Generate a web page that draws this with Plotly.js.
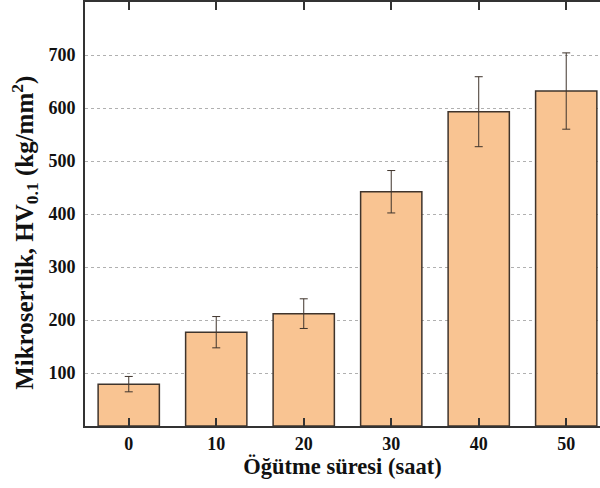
<!DOCTYPE html>
<html>
<head>
<meta charset="utf-8">
<script src="https://cdn.plot.ly/plotly-3.0.1.min.js"></script>
<style>html,body{margin:0;padding:0;background:#fff;overflow:hidden}</style>
</head>
<body>
<div id="chart" style="width:600px;height:488px"></div>
<script>
const categories = [0, 10, 20, 30, 40, 50];
const hardness = [79, 177, 212, 442, 593, 632];
const hardnessErr = [14.5, 29.5, 28, 40, 66, 72];
const yTicks = [100, 200, 300, 400, 500, 600, 700];

const FONT = 'Liberation Serif, Times New Roman, serif';

const trace = {
  type: 'bar',
  x: categories,
  y: hardness,
  width: 7,
  marker: {color: '#F9C492', line: {color: '#3f342c', width: 1.5}},
  error_y: {type: 'data', array: hardnessErr, visible: true, color: '#3f342c', thickness: 1, width: 4},
  hoverinfo: 'x+y'
};

const layout = {
  width: 600, height: 488,
  margin: {l: 85, r: 0, t: 2, b: 62},
  paper_bgcolor: '#fff', plot_bgcolor: '#fff',
  showlegend: false,
  font: {family: FONT, color: '#111'},
  xaxis: {
    range: [-5, 53.86],
    tickvals: categories,
    ticktext: categories.map(String),
    ticks: 'inside', ticklen: 8, tickwidth: 2, tickcolor: '#333',
    showline: true, linewidth: 2, linecolor: '#333', mirror: 'ticks',
    showgrid: false, zeroline: false,
    tickfont: {family: FONT, size: 18, color: '#111', weight: 'bold'},
    title: {text: 'Öğütme süresi (saat)', font: {family: FONT, size: 22.5, color: '#111', weight: 'bold'}, standoff: 6}
  },
  yaxis: {
    range: [0, 800],
    tickvals: yTicks,
    ticks: '',
    showline: true, linewidth: 2, linecolor: '#333',
    showgrid: true, gridcolor: '#b0b0b0', gridwidth: 1, griddash: '3px,3px',
    zeroline: false,
    tickfont: {family: FONT, size: 18, color: '#111', weight: 'bold'},
    ticklabelstandoff: 4
  },
  annotations: [{
    xref: 'paper', yref: 'paper',
    x: -0.117, y: 0.455,
    xanchor: 'center', yanchor: 'middle',
    textangle: -90, showarrow: false,
    text: 'Mikrosertlik, HV<sub>0.1</sub> (kg/mm<sup>2</sup>)',
    font: {family: FONT, size: 25, color: '#111', weight: 'bold'}
  }]
};

Plotly.newPlot('chart', [trace], layout, {displayModeBar: false, staticPlot: true});
</script>
</body>
</html>
